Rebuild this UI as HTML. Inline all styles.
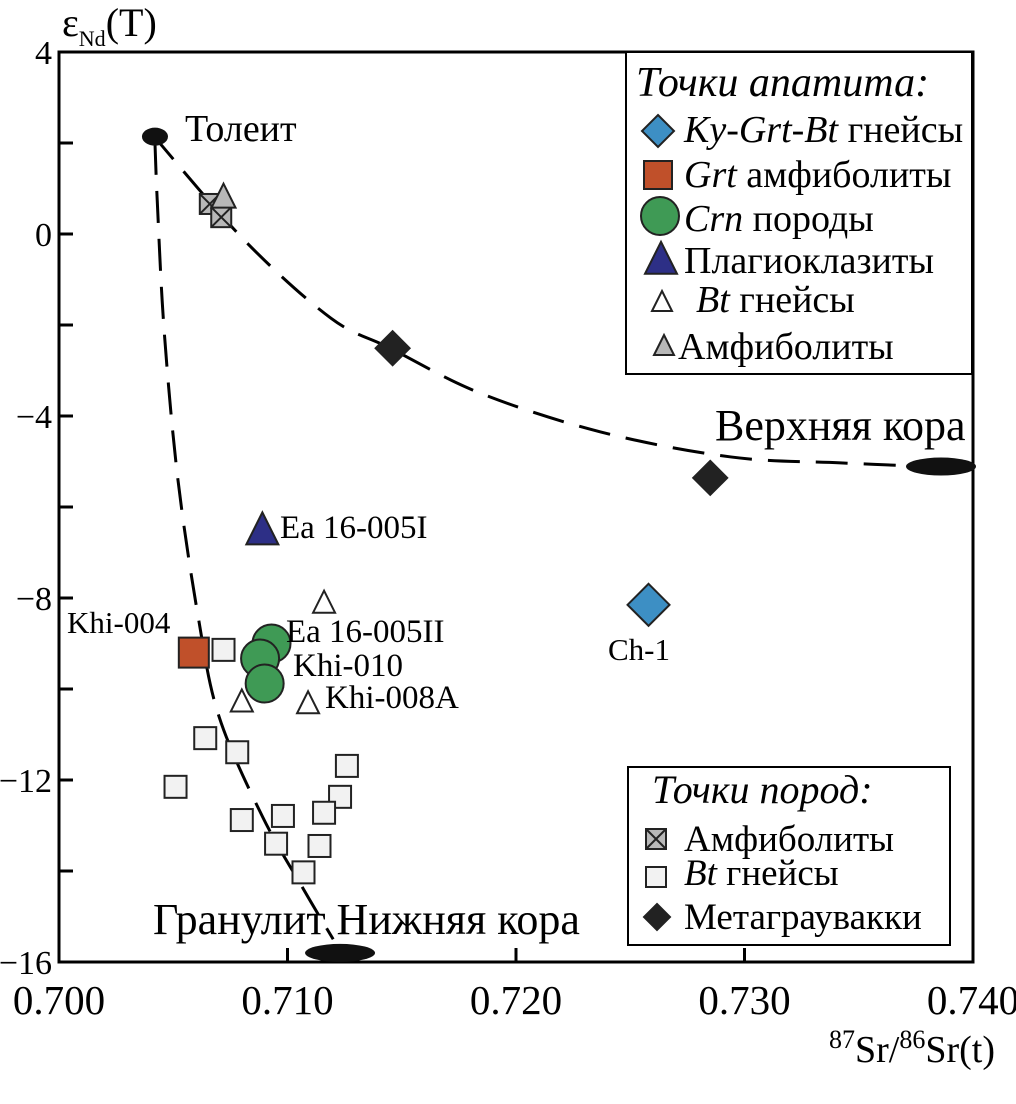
<!DOCTYPE html>
<html><head><meta charset="utf-8"><style>
body{margin:0;background:#fff}
svg{display:block;font-family:"Liberation Serif",serif}
</style></head><body>
<svg id="chart" width="1016" height="1104" viewBox="0 0 1016 1104"></svg>
<script>
const xTicks=[0.700,0.710,0.720,0.730,0.740];
const xTickLabels=["0.700","0.710","0.720","0.730","0.740"];
const yTicks=[4,0,-4,-8,-12,-16];
const yTickLabels=["4","0","\u22124","\u22128","\u221212","\u221216"];
const yMinorTicks=[2,-2,-6,-10,-14];
const rockAmphX=[0.7066,0.7071], rockAmphY=[0.66,0.37];
const rockBtX=[0.7072,0.7064,0.7078,0.7051,0.7126,0.7123,0.7116,0.7080,0.7098,0.7095,0.7114,0.7107];
const rockBtY=[-9.14,-11.08,-11.39,-12.15,-11.69,-12.37,-12.72,-12.88,-12.79,-13.4,-13.45,-14.03];
const metaX=[0.7146,0.7285], metaY=[-2.51,-5.36];
const apKyX=[0.7258], apKyY=[-8.15];
const apGrtX=[0.7059], apGrtY=[-9.2];
const apCrnX=[0.7093,0.7088,0.7090], apCrnY=[-9.0,-9.33,-9.88];
const apPlX=[0.7089], apPlY=[-6.54];
const apBtX=[0.7116,0.7080,0.7109], apBtY=[-8.13,-10.3,-10.34];
const apAmX=[0.7072], apAmY=[0.79];
const curve1X=[0.7041,0.7081,0.7119,0.7145,0.7184,0.7237,0.7294,0.7342,0.7386];
const curve1Y=[2.18,-0.13,-1.85,-2.51,-3.49,-4.35,-4.90,-5.03,-5.12];
const curve2X=[0.7042,0.7043,0.7046,0.7052,0.7061,0.7070,0.7089,0.7107,0.7120];
const curve2Y=[2.0,0.73,-2.11,-5.38,-8.44,-10.6,-12.8,-14.4,-15.5];

const L=59,R=973,T=52,B=962;
const X=v=>L+(v-0.700)/0.04*(R-L);
const Y=v=>T+(4-v)/20*(B-T);
const svg=document.getElementById('chart');
const NS='http://www.w3.org/2000/svg';
function mk(tag,attrs,parent){const e=document.createElementNS(NS,tag);for(const k in attrs)e.setAttribute(k,attrs[k]);(parent||svg).appendChild(e);return e;}
function txt(x,y,s,size,extra){const t=mk('text',Object.assign({x:x,y:y,'font-size':size},extra||{}));t.innerHTML=s;return t;}

let e=mk('rect',{x:L,y:T,width:R-L,height:B-T,fill:'none',stroke:'#000','stroke-width':3});

yTicks.forEach((v,i)=>{mk('line',{x1:L,x2:L+14,y1:Y(v),y2:Y(v),stroke:'#000','stroke-width':3});
 let t=txt(L-7,Y(v)+12,yTickLabels[i],34,{'text-anchor':'end'});
 });
yMinorTicks.forEach(v=>mk('line',{x1:L,x2:L+14,y1:Y(v),y2:Y(v),stroke:'#000','stroke-width':3}));
xTicks.forEach((v,i)=>{mk('line',{x1:X(v),x2:X(v),y1:B,y2:B-14,stroke:'#000','stroke-width':3});
 let t=txt(X(v),B+52,xTickLabels[i],41,{'text-anchor':'middle'});
 });
e=txt(995,1062,'<tspan font-size="26" dy="-14">87</tspan><tspan dy="14">Sr/</tspan><tspan font-size="26" dy="-14">86</tspan><tspan dy="14">Sr(t)</tspan>',38,{'text-anchor':'end'});

e=txt(62,36,'ε<tspan font-size="22" dy="10">Nd</tspan><tspan dy="-10">(T)</tspan>',40);


function smooth(xs,ys){const p=xs.map((v,i)=>[X(v),Y(ys[i])]);let d='M'+p[0];for(let i=0;i<p.length-1;i++){const p0=p[i-1]||p[i],p1=p[i],p2=p[i+1],p3=p[i+2]||p2;d+=' C'+(p1[0]+(p2[0]-p0[0])/6)+','+(p1[1]+(p2[1]-p0[1])/6)+' '+(p2[0]-(p3[0]-p1[0])/6)+','+(p2[1]-(p3[1]-p1[1])/6)+' '+p2;}return d;}
e=mk('path',{d:smooth(curve1X,curve1Y),fill:'none',stroke:'#000','stroke-width':3,'stroke-dasharray':'32,16'});

e=mk('path',{d:smooth(curve2X,curve2Y),fill:'none',stroke:'#000','stroke-width':3,'stroke-dasharray':'32,16'});


e=mk('ellipse',{cx:X(0.7042),cy:Y(2.14),rx:13,ry:9,fill:'#111'});

e=mk('ellipse',{cx:X(0.7386),cy:Y(-5.11),rx:35,ry:9,fill:'#111'});

e=mk('ellipse',{cx:X(0.7123),cy:Y(-15.8),rx:35,ry:9,fill:'#111'});


function sq(x,y,s,fill,cross,name){const g=mk('g',{});
 mk('rect',{x:x-s/2,y:y-s/2,width:s,height:s,fill:fill,stroke:'#222','stroke-width':2},g);
 if(cross){mk('path',{d:`M${x-s/2},${y-s/2}L${x+s/2},${y+s/2}M${x+s/2},${y-s/2}L${x-s/2},${y+s/2}`,stroke:'#222','stroke-width':2},g);}return g;}
function tri(x,y,s,fill,name){const e=mk('polygon',{points:`${x},${y-s*0.6} ${x+s/2},${y+s*0.4} ${x-s/2},${y+s*0.4}`,fill:fill,stroke:'#222','stroke-width':2});return e;}
function dia(x,y,s,fill,name){const e=mk('polygon',{points:`${x},${y-s} ${x+s},${y} ${x},${y+s} ${x-s},${y}`,fill:fill,stroke:'#222','stroke-width':2});return e;}
function circ(x,y,r,fill,name){const e=mk('circle',{cx:x,cy:y,r:r,fill:fill,stroke:'#222','stroke-width':2});return e;}

rockBtX.forEach((v,i)=>sq(X(v),Y(rockBtY[i]),22,'#f2f2f2',false,'rock-bt-gneiss-point'));
rockAmphX.forEach((v,i)=>sq(X(v),Y(rockAmphY[i]),20,'#b8b8b8',true,'rock-amphibolite-point'));
apAmX.forEach((v,i)=>tri(X(v),Y(apAmY[i]),24,'#b8b8b8','apatite-amphibolite-point'));
metaX.forEach((v,i)=>dia(X(v),Y(metaY[i]),17,'#222','metagraywacke-point'));
apKyX.forEach((v,i)=>dia(X(v),Y(apKyY[i]),21,'#3d8fc4','apatite-ky-grt-bt-point'));
apGrtX.forEach((v,i)=>sq(X(v),Y(apGrtY[i]),30,'#c0502a',false,'apatite-grt-amphibolite-point'));
apCrnX.forEach((v,i)=>circ(X(v),Y(apCrnY[i]),19,'#3f9a55','apatite-crn-point'));
apPlX.forEach((v,i)=>tri(X(v),Y(apPlY[i]),32,'#2d2f86','apatite-plagioclasite-point'));
apBtX.forEach((v,i)=>tri(X(v),Y(apBtY[i]),22,'#fff','apatite-bt-gneiss-point'));

const labels=[[185,141,'Толеит',38,'tholeiite-label'],[715,440,'Верхняя кора',44,'upper-crust-label'],[153,934,'Гранулит Нижняя кора',44,'lower-crust-label'],
[280,538,'Ea 16-005I',33,'label-ea16-005i'],[286,642,'Ea 16-005II',33,'label-ea16-005ii'],[293,676,'Khi-010',33,'label-khi-010'],[325,708,'Khi-008A',33,'label-khi-008a'],
[67,633,'Khi-004',31,'label-khi-004'],[608,660,'Ch-1',31,'label-ch-1']];
labels.forEach(l=>{const t=txt(l[0],l[1],l[2],l[3]);});

const lg=mk('g',{});
mk('rect',{x:626,y:52,width:346,height:322,fill:'#fff',stroke:'#000','stroke-width':2},lg);
txt(636,96,'<tspan font-style="italic">Точки апатита:</tspan>',42);
dia(658,131,16,'#3d8fc4','legend-ky-grt-bt-marker');txt(684,142,'<tspan font-style="italic">Ky-Grt-Bt</tspan> гнейсы',38);
sq(658,175,28,'#c0502a',false,'legend-grt-marker');txt(684,187,'<tspan font-style="italic">Grt</tspan> амфиболиты',38);
circ(660,216,19,'#3f9a55','legend-crn-marker');txt(684,231,'<tspan font-style="italic">Crn</tspan> породы',38);
tri(661,261,32,'#2d2f86','legend-plagioclasite-marker');txt(684,273,'Плагиоклазиты',38);
tri(662,303,20,'#fff','legend-bt-gneiss-tri-marker');txt(696,312,'<tspan font-style="italic">Bt</tspan> гнейсы',38);
tri(664,347,20,'#b8b8b8','legend-amph-tri-marker');txt(678,359,'Амфиболиты',38);
const lg2=mk('g',{});
mk('rect',{x:628,y:767,width:322,height:178,fill:'#fff',stroke:'#000','stroke-width':2},lg2);
txt(652,803,'<tspan font-style="italic">Точки пород:</tspan>',40);
sq(656,839,20,'#b8b8b8',true,'legend-rock-amph-marker');txt(684,851,'Амфиболиты',37);
sq(656,877,20,'#f2f2f2',false,'legend-rock-bt-marker');txt(684,885,'<tspan font-style="italic">Bt</tspan> гнейсы',37);
dia(657,917,13,'#222','legend-metagraywacke-marker');txt(684,929,'Метаграувакки',37);
</script>
</body></html>
